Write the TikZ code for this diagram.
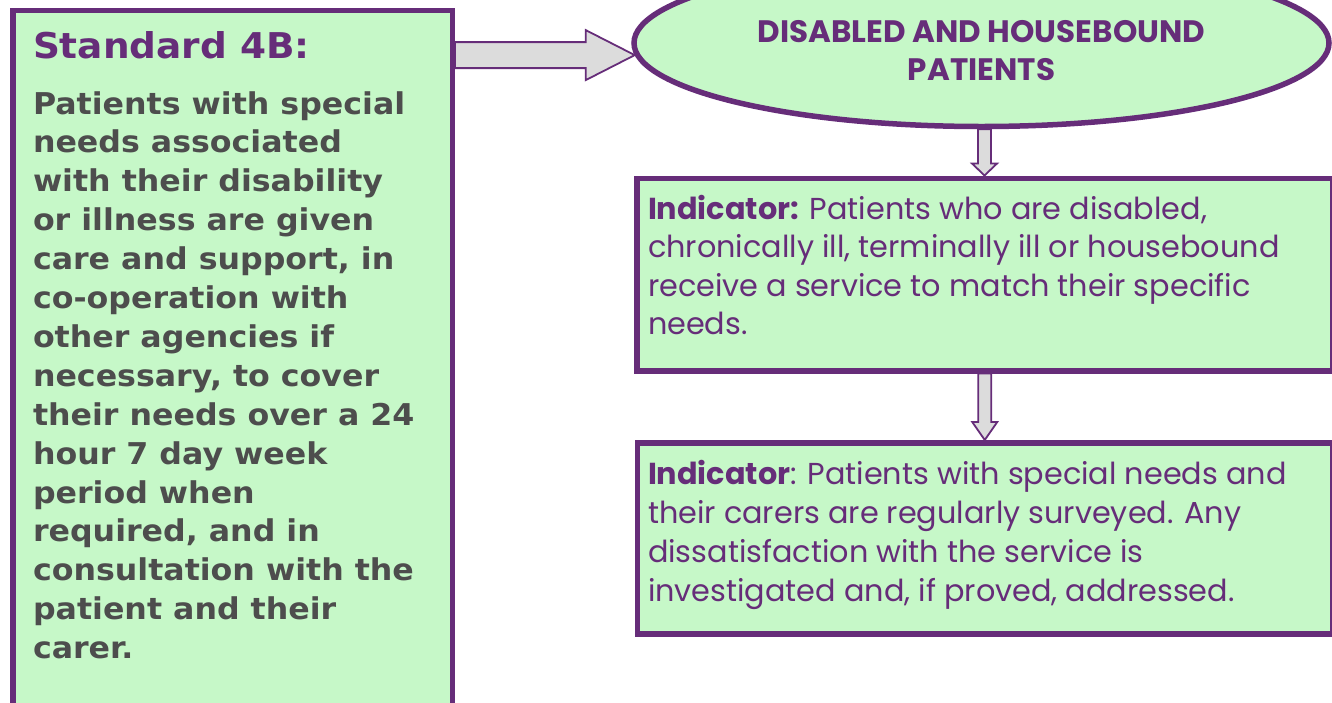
\documentclass[tikz,border=0pt]{standalone}
\usepackage{fontspec}
\usetikzlibrary{calc,shapes.geometric}
\newfontfamily\verdfont[FakeStretch=1.055]{DejaVu Sans}
\newfontfamily\gothfont{Poppins}
\definecolor{boxgreen}{HTML}{C6F8C8}
\definecolor{plum}{HTML}{662D79}
\definecolor{ink}{HTML}{4D4D4D}
\definecolor{arrowgrey}{HTML}{DCDCDC}
\tikzset{
  panel/.style={draw=plum, line width=5.5pt, fill=boxgreen, inner sep=0pt},
  blockarrow/.style={draw=plum, line width=1.8pt, fill=arrowgrey, line join=miter},
  textblock/.style={anchor=base west, inner sep=0pt, outer sep=0pt},
}
\begin{document}
\begin{tikzpicture}[x=1pt,y=-1pt]
\useasboundingbox (0,0) rectangle (1332,702);

% panels
\node[panel, rectangle, minimum width=439.5pt, minimum height=695.5pt, anchor=north west] (std) at (10,7.5) {};
\node[panel, ellipse, minimum width=695pt, minimum height=167pt] (ell) at (981.5,43) {};
\node[panel, rectangle, minimum width=695.5pt, minimum height=192.5pt, anchor=north west] (ind1) at (634,175.5) {};
\node[panel, rectangle, minimum width=695pt, minimum height=191pt, anchor=north west] (ind2) at (634.5,440) {};

% block arrows
\draw[blockarrow] let \p1=(std.east), \p2=(ell.182) in
  (\x1,\y2+13pt) -- (\x2-49pt,\y2+13pt) -- (\x2-49pt,\y2+25pt) -- (\p2)
  -- (\x2-49pt,\y2-25pt) -- (\x2-49pt,\y2-13pt) -- (\x1,\y2-13pt) -- cycle;
\draw[blockarrow] let \p1=(ell.south), \p2=(ind1.north) in
  (\x2-6.5pt,\y1) -- (\x2-6.5pt,\y2+12pt) -- (\x2-12.5pt,\y2+12pt) -- (\p2)
  -- (\x2+12.5pt,\y2+12pt) -- (\x2+6.5pt,\y2+12pt) -- (\x2+6.5pt,\y1) -- cycle;
\draw[blockarrow] let \p1=(ind1.south), \p2=(ind2.north) in
  (\x2-6.5pt,\y1) -- (\x2-6.5pt,\y2+18pt) -- (\x2-12.5pt,\y2+18pt) -- (\p2)
  -- (\x2+12.5pt,\y2+18pt) -- (\x2+6.5pt,\y2+18pt) -- (\x2+6.5pt,\y1) -- cycle;

% texts
\node[textblock, text=plum, font=\verdfont\bfseries\fontsize{35.5}{44}\selectfont] (title) at (33,58) {Standard 4B:};
\node[textblock, text=ink, font=\verdfont\bfseries\fontsize{30}{38.9}\selectfont] (body) at (33,114) {\parbox[t]{600pt}{\raggedright
Patients with special\\
needs associated\\
with their disability\\
or illness are given\\
care and support, in\\
co-operation with\\
other agencies if\\
necessary, to cover\\
their needs over a 24\\
hour 7 day week\\
period when\\
required, and in\\
consultation with the\\
patient and their\\
carer.}};

\node[anchor=base, inner sep=0pt, text=plum, font=\gothfont\bfseries\fontsize{31}{38.7}\selectfont] (head) at (981.5,42) {\parbox[t]{600pt}{\centering
DISABLED AND HOUSEBOUND\\
PATIENTS}};

\node[textblock, text=plum, font=\gothfont\fontsize{30.3}{38.5}\selectfont] (txt1) at (648,219) {\parbox[t]{700pt}{\raggedright
\textbf{Indicator:} Patients who are disabled,\\
chronically ill, terminally ill or housebound\\
receive a service to match their specific\\
needs.}};

\node[textblock, text=plum, font=\gothfont\fontsize{30.3}{39}\selectfont] (txt2) at (648,484.3) {\parbox[t]{700pt}{\raggedright
\textbf{Indicator}: Patients with special needs and\\
their carers are regularly surveyed. Any\\
dissatisfaction with the service is\\
investigated and, if proved, addressed.}};
\end{tikzpicture}
\end{document}
